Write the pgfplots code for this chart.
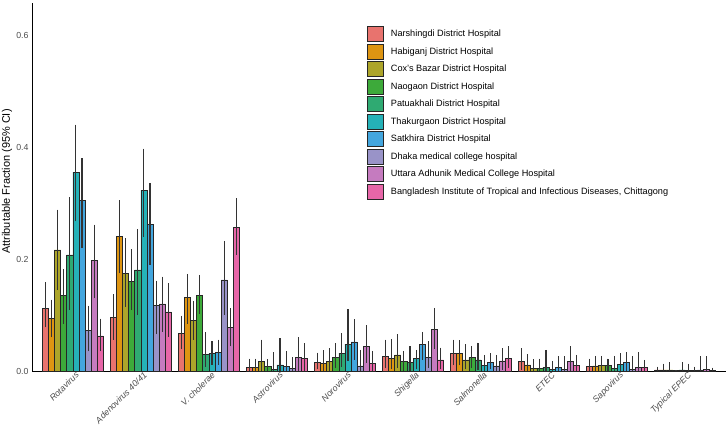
\documentclass[border=0pt]{standalone}
\usepackage{pgfplots}
\pgfplotsset{compat=1.18}
\usepackage{pgfplotstable}
\usepackage{fontspec}
\setmainfont{Liberation Sans}

\definecolor{c1}{HTML}{E8736E}
\definecolor{c2}{HTML}{DE9512}
\definecolor{c3}{HTML}{ADA52A}
\definecolor{c4}{HTML}{3DAA3A}
\definecolor{c5}{HTML}{2FAA72}
\definecolor{c6}{HTML}{25B2B8}
\definecolor{c7}{HTML}{43A6DE}
\definecolor{c8}{HTML}{9993C8}
\definecolor{c9}{HTML}{C57BBF}
\definecolor{c10}{HTML}{E766A8}
\definecolor{tickgray}{HTML}{4D4D4D}

% columns: pathogen index, AF, lower CI, upper CI
\pgfplotstableread{
x y lo hi
0 0.112 0.078 0.159
1 0.096 0.056 0.137
2 0.068 0.039 0.099
3 0.007 0.000 0.022
4 0.016 0.003 0.033
5 0.026 0.005 0.056
6 0.032 0.010 0.056
7 0.017 0.002 0.041
8 0.008 0.000 0.022
9 0.002 0.000 0.008
}\hA
\pgfplotstableread{
x y lo hi
0 0.094 0.060 0.128
1 0.241 0.175 0.306
2 0.132 0.085 0.174
3 0.007 0.000 0.022
4 0.014 0.000 0.037
5 0.023 0.003 0.057
6 0.032 0.010 0.055
7 0.011 0.000 0.030
8 0.009 0.000 0.027
9 0.002 0.000 0.013
}\hB
\pgfplotstableread{
x y lo hi
0 0.217 0.145 0.289
1 0.175 0.115 0.238
2 0.090 0.056 0.126
3 0.017 0.000 0.056
4 0.017 0.000 0.041
5 0.029 0.005 0.066
6 0.020 0.003 0.048
7 0.005 0.000 0.021
8 0.010 0.000 0.027
9 0.002 0.000 0.016
}\hC
\pgfplotstableread{
x y lo hi
0 0.136 0.085 0.183
1 0.160 0.109 0.218
2 0.136 0.102 0.172
3 0.008 0.000 0.021
4 0.024 0.005 0.050
5 0.017 0.000 0.036
6 0.024 0.005 0.045
7 0.005 0.000 0.022
8 0.010 0.000 0.022
9 0.001 0.000 0.001
}\hD
\pgfplotstableread{
x y lo hi
0 0.208 0.109 0.311
1 0.181 0.100 0.254
2 0.030 0.008 0.069
3 0.003 0.000 0.034
4 0.032 0.008 0.068
5 0.016 0.000 0.044
6 0.020 0.002 0.051
7 0.007 0.000 0.038
8 0.005 0.000 0.027
9 0.002 0.000 0.016
}\hE
\pgfplotstableread{
x y lo hi
0 0.356 0.268 0.441
1 0.324 0.240 0.398
2 0.032 0.011 0.054
3 0.011 0.000 0.059
4 0.048 0.018 0.111
5 0.022 0.003 0.038
6 0.010 0.000 0.029
7 0.003 0.000 0.018
8 0.012 0.000 0.032
9 0.001 0.000 0.013
}\hF
\pgfplotstableread{
x y lo hi
0 0.306 0.220 0.381
1 0.263 0.190 0.337
2 0.033 0.011 0.056
3 0.008 0.000 0.036
4 0.052 0.020 0.093
5 0.047 0.020 0.070
6 0.016 0.003 0.032
7 0.007 0.000 0.026
8 0.016 0.000 0.034
9 0.001 0.000 0.008
}\hG
\pgfplotstableread{
x y lo hi
0 0.073 0.035 0.117
1 0.118 0.066 0.162
2 0.163 0.100 0.233
3 0.005 0.000 0.025
4 0.009 0.000 0.038
5 0.025 0.005 0.053
6 0.009 0.000 0.029
7 0.003 0.000 0.026
8 0.003 0.000 0.027
9 0.002 0.000 0.026
}\hH
\pgfplotstableread{
x y lo hi
0 0.198 0.130 0.262
1 0.120 0.070 0.169
2 0.078 0.044 0.112
3 0.025 0.000 0.060
4 0.044 0.015 0.082
5 0.075 0.040 0.113
6 0.018 0.002 0.041
7 0.017 0.000 0.044
8 0.007 0.000 0.034
9 0.003 0.000 0.026
}\hI
\pgfplotstableread{
x y lo hi
0 0.063 0.035 0.094
1 0.106 0.061 0.157
2 0.257 0.208 0.309
3 0.023 0.000 0.050
4 0.013 0.000 0.036
5 0.020 0.003 0.042
6 0.023 0.005 0.044
7 0.010 0.000 0.029
8 0.007 0.000 0.020
9 0.001 0.000 0.006
}\hJ

\begin{document}
\begin{tikzpicture}
\begin{axis}[
  scale only axis,
  width=694bp, height=368bp,
  xmin=-0.6, xmax=9.6,
  ymin=0, ymax=0.659,
  ybar=0pt, bar width=0.09,
  axis x line*=bottom, axis y line*=left,
  axis line style={black, line width=0.9bp},
  major tick length=0pt,
  xtick={0,...,9},
  xticklabels={Rotavirus, Adenovirus 40/41, V. cholerae, Astrovirus, Norovirus, Shigella, Salmonella, ETEC, Sapovirus, Typical EPEC},
  x tick label style={rotate=45, anchor=north east, font=\fontsize{8.8}{10}\selectfont\itshape, text=tickgray, inner sep=1.5pt, xshift=3bp},
  ytick={0,0.2,0.4,0.6},
  yticklabel style={/pgf/number format/.cd, fixed, fixed zerofill, precision=1, /tikz/.cd, font=\fontsize{8.8}{10}\selectfont, text=tickgray},
  /pgf/number format/assume math mode=true,
  ylabel={Attributable Fraction (95\% CI)},
  every axis y label/.style={at={(axis description cs:-0.036,0.515)}, rotate=90, anchor=center, font=\fontsize{11}{13}\selectfont},
  error bars/y dir=both,
  error bars/y explicit,
  error bars/error mark=none,
  error bars/error bar style={line width=1.1bp, color=black!80},
  every axis plot/.append style={draw=black!85, line width=0.6bp},
  legend image code/.code={\draw[#1, draw=black!85, line width=0.8bp] (0bp,-7.5bp) rectangle (16bp,7.5bp); \path (23bp,0bp);},
  legend cell align=left,
  legend style={draw=none, fill=none, at={(0.4827,0.937)}, anchor=north west,
    font=\fontsize{9.2}{11}\selectfont, row sep=1.7bp, inner sep=0pt,
    nodes={inner sep=0pt}},
]
\addplot[fill=c1] table[x=x, y=y, y error plus expr=\thisrow{hi}-\thisrow{y}, y error minus expr=\thisrow{y}-\thisrow{lo}]{\hA};
\addlegendentry{Narshingdi District Hospital}
\addplot[fill=c2] table[x=x, y=y, y error plus expr=\thisrow{hi}-\thisrow{y}, y error minus expr=\thisrow{y}-\thisrow{lo}]{\hB};
\addlegendentry{Habiganj District Hospital}
\addplot[fill=c3] table[x=x, y=y, y error plus expr=\thisrow{hi}-\thisrow{y}, y error minus expr=\thisrow{y}-\thisrow{lo}]{\hC};
\addlegendentry{Cox's Bazar District Hospital}
\addplot[fill=c4] table[x=x, y=y, y error plus expr=\thisrow{hi}-\thisrow{y}, y error minus expr=\thisrow{y}-\thisrow{lo}]{\hD};
\addlegendentry{Naogaon District Hospital}
\addplot[fill=c5] table[x=x, y=y, y error plus expr=\thisrow{hi}-\thisrow{y}, y error minus expr=\thisrow{y}-\thisrow{lo}]{\hE};
\addlegendentry{Patuakhali District Hospital}
\addplot[fill=c6] table[x=x, y=y, y error plus expr=\thisrow{hi}-\thisrow{y}, y error minus expr=\thisrow{y}-\thisrow{lo}]{\hF};
\addlegendentry{Thakurgaon District Hospital}
\addplot[fill=c7] table[x=x, y=y, y error plus expr=\thisrow{hi}-\thisrow{y}, y error minus expr=\thisrow{y}-\thisrow{lo}]{\hG};
\addlegendentry{Satkhira District Hospital}
\addplot[fill=c8] table[x=x, y=y, y error plus expr=\thisrow{hi}-\thisrow{y}, y error minus expr=\thisrow{y}-\thisrow{lo}]{\hH};
\addlegendentry{Dhaka medical college hospital}
\addplot[fill=c9] table[x=x, y=y, y error plus expr=\thisrow{hi}-\thisrow{y}, y error minus expr=\thisrow{y}-\thisrow{lo}]{\hI};
\addlegendentry{Uttara Adhunik Medical College Hospital}
\addplot[fill=c10] table[x=x, y=y, y error plus expr=\thisrow{hi}-\thisrow{y}, y error minus expr=\thisrow{y}-\thisrow{lo}]{\hJ};
\addlegendentry{Bangladesh Institute of Tropical and Infectious Diseases, Chittagong}
\end{axis}
\pgfresetboundingbox
\path[use as bounding box] (-32bp,-61bp) rectangle (696bp,371bp);
\end{tikzpicture}
\end{document}
